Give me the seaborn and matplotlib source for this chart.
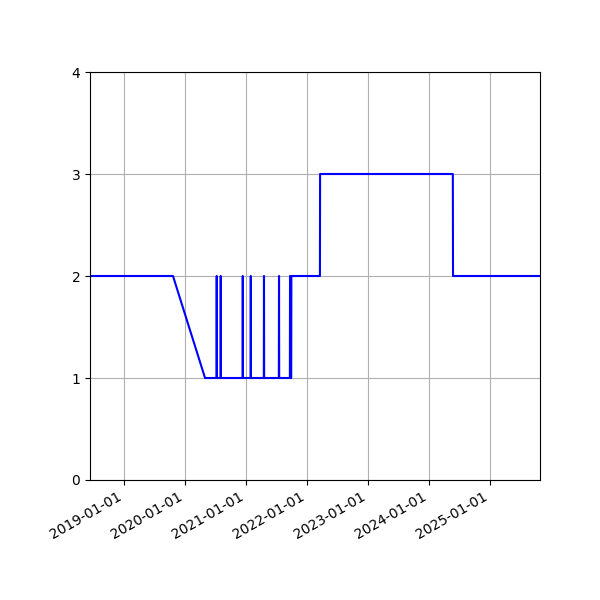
import matplotlib
matplotlib.use("Agg")
import matplotlib.pyplot as plt
import matplotlib.dates as mdates
import seaborn as sns
import pandas as pd

dates = [
    "2018-06-11", "2019-10-21", "2020-04-30",
    "2020-07-08", "2020-07-09", "2020-07-10",
    "2020-08-01", "2020-08-02", "2020-08-03",
    "2020-12-11", "2020-12-12", "2020-12-13",
    "2021-01-28", "2021-01-29", "2021-01-30",
    "2021-04-17", "2021-04-18", "2021-04-19",
    "2021-07-16", "2021-07-17", "2021-07-18",
    "2021-09-20", "2021-09-21", "2021-09-22",
    "2021-09-28", "2021-09-29",
    "2022-03-19", "2022-03-20",
    "2024-05-23", "2024-05-24",
    "2025-10-27",
]
values = [
    2, 2, 1,
    1, 2, 1,
    1, 2, 1,
    1, 2, 1,
    1, 2, 1,
    1, 2, 1,
    1, 2, 1,
    1, 2, 1,
    1, 2,
    2, 3,
    3, 2,
    2,
]
y_ticks = [0, 1, 2, 3, 4]

df = pd.DataFrame({"date": pd.to_datetime(dates), "value": values})

fig = plt.figure(figsize=(6, 6), dpi=100)
ax = fig.add_subplot(111)
sns.lineplot(data=df, x="date", y="value", color="blue", ax=ax, sort=False)
ax.set_xlim(df["date"].min(), df["date"].max())
ax.set_ylim(0, 4)
ax.set_yticks(y_ticks)
ax.xaxis.set_major_locator(mdates.YearLocator())
ax.xaxis.set_major_formatter(mdates.DateFormatter("%Y-%m-%d"))
ax.set_xlabel("")
ax.set_ylabel("")
ax.grid(True)
fig.autofmt_xdate()
fig.subplots_adjust(left=0.15, right=0.9, top=0.88, bottom=0.2)
fig.savefig("out.png", dpi=100)
